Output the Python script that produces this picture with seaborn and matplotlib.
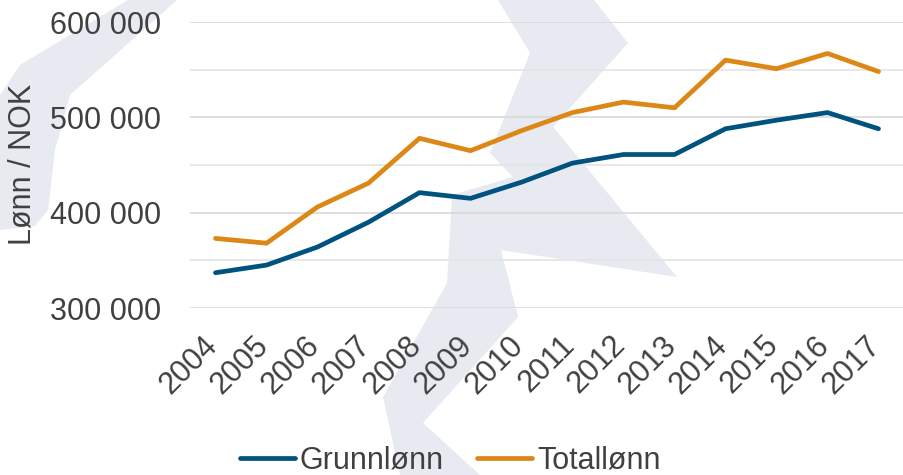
import matplotlib
matplotlib.use('Agg')
import matplotlib.pyplot as plt
import matplotlib.transforms as mtransforms
from matplotlib.patches import Polygon
from matplotlib.ticker import MultipleLocator, FuncFormatter
import seaborn as sns
import pandas as pd

# Data
years = list(range(2004, 2018))
grunnlonn = [337000, 345000, 364000, 390000, 421000, 415000, 432000,
             452000, 461000, 461000, 488000, 497000, 505000, 488000]
totallonn = [373000, 368000, 406000, 431000, 478000, 465000, 486000,
             505000, 516000, 510000, 560000, 551000, 567000, 548000]
series_names = ['Grunnlønn', 'Totallønn']
colors = ['#00527F', '#DD8717']

df = pd.DataFrame({
    'År': years * 2,
    'Lønn': grunnlonn + totallonn,
    'Serie': [series_names[0]] * len(years) + [series_names[1]] * len(years),
})

sns.set_theme(style='white')
plt.rcParams['font.family'] = ['Liberation Sans', 'DejaVu Sans']
txt = '#404040'
fs = 22

fig = plt.figure(figsize=(9.04, 4.75), dpi=100)

# watermark i bakgrunnen
bg = fig.add_axes([0, 0, 1, 1], zorder=-1)
bg.set_xlim(0, 904)
bg.set_ylim(475, 0)
bg.axis('off')
wm = '#E8EAF2'
bg.add_patch(Polygon([(128, 0), (177, 0), (70, 95), (55, 150), (48, 210),
                      (35, 226), (0, 230), (0, 95), (20, 65)],
                     closed=True, facecolor=wm, edgecolor='none'))
bg.add_patch(Polygon([(498, 0), (594, 0), (628, 43), (553, 127), (677, 277),
                      (501, 250), (518, 317), (423, 423), (480, 475),
                      (400, 475), (383, 397), (447, 283), (452, 195),
                      (513, 177), (490, 153), (530, 53)],
                     closed=True, facecolor=wm, edgecolor='none'))

ax = fig.add_axes([190 / 904, 1 - 308 / 475, 714 / 904, 286 / 475])
ax.set_facecolor('none')

sns.lineplot(data=df, x='År', y='Lønn', hue='Serie', palette=colors,
             linewidth=3.4, ax=ax, legend=False, solid_capstyle='round',
             clip_on=False, zorder=3)

ax.set_xlim(2003.5, 2017.5)
ax.set_ylim(300000, 600000)
ax.yaxis.set_major_locator(MultipleLocator(100000))
ax.yaxis.set_minor_locator(MultipleLocator(50000))
ax.yaxis.set_major_formatter(FuncFormatter(lambda v, p: f'{v:,.0f}'.replace(',', ' ')))
ax.grid(True, which='major', axis='y', color='#D9D9D9', linewidth=1.2)
ax.grid(True, which='minor', axis='y', color='#E4E4E4', linewidth=1.2)
ax.set_axisbelow(True)
for s in ax.spines.values():
    s.set_visible(False)

ax.set_xticks(years)
ax.set_xticklabels([str(y) for y in years], rotation=45, ha='right', va='top')
ax.tick_params(axis='x', length=0, pad=16, labelsize=fs, labelcolor=txt)
ax.tick_params(axis='y', which='both', length=0, pad=21, labelsize=fs, labelcolor=txt)
shift = mtransforms.ScaledTranslation(6 / 72, 0, fig.dpi_scale_trans)
for lbl in ax.get_xticklabels():
    lbl.set_transform(lbl.get_transform() + shift)

ax.set_xlabel('')
ax.set_ylabel('Lønn / NOK', fontsize=fs, color=txt)
ax.yaxis.set_label_coords(-0.213, 0.503)

handles = [plt.Line2D([], [], color=c, linewidth=3.4, solid_capstyle='round') for c in colors]
leg = fig.legend(handles, series_names, loc='center', bbox_to_anchor=(0.498, 0.03),
                 ncol=2, frameon=False, fontsize=fs, handlelength=1.8,
                 handletextpad=0.16, columnspacing=1.1, borderpad=0)
for t in leg.get_texts():
    t.set_color(txt)

plt.savefig('out.png', dpi=100)
